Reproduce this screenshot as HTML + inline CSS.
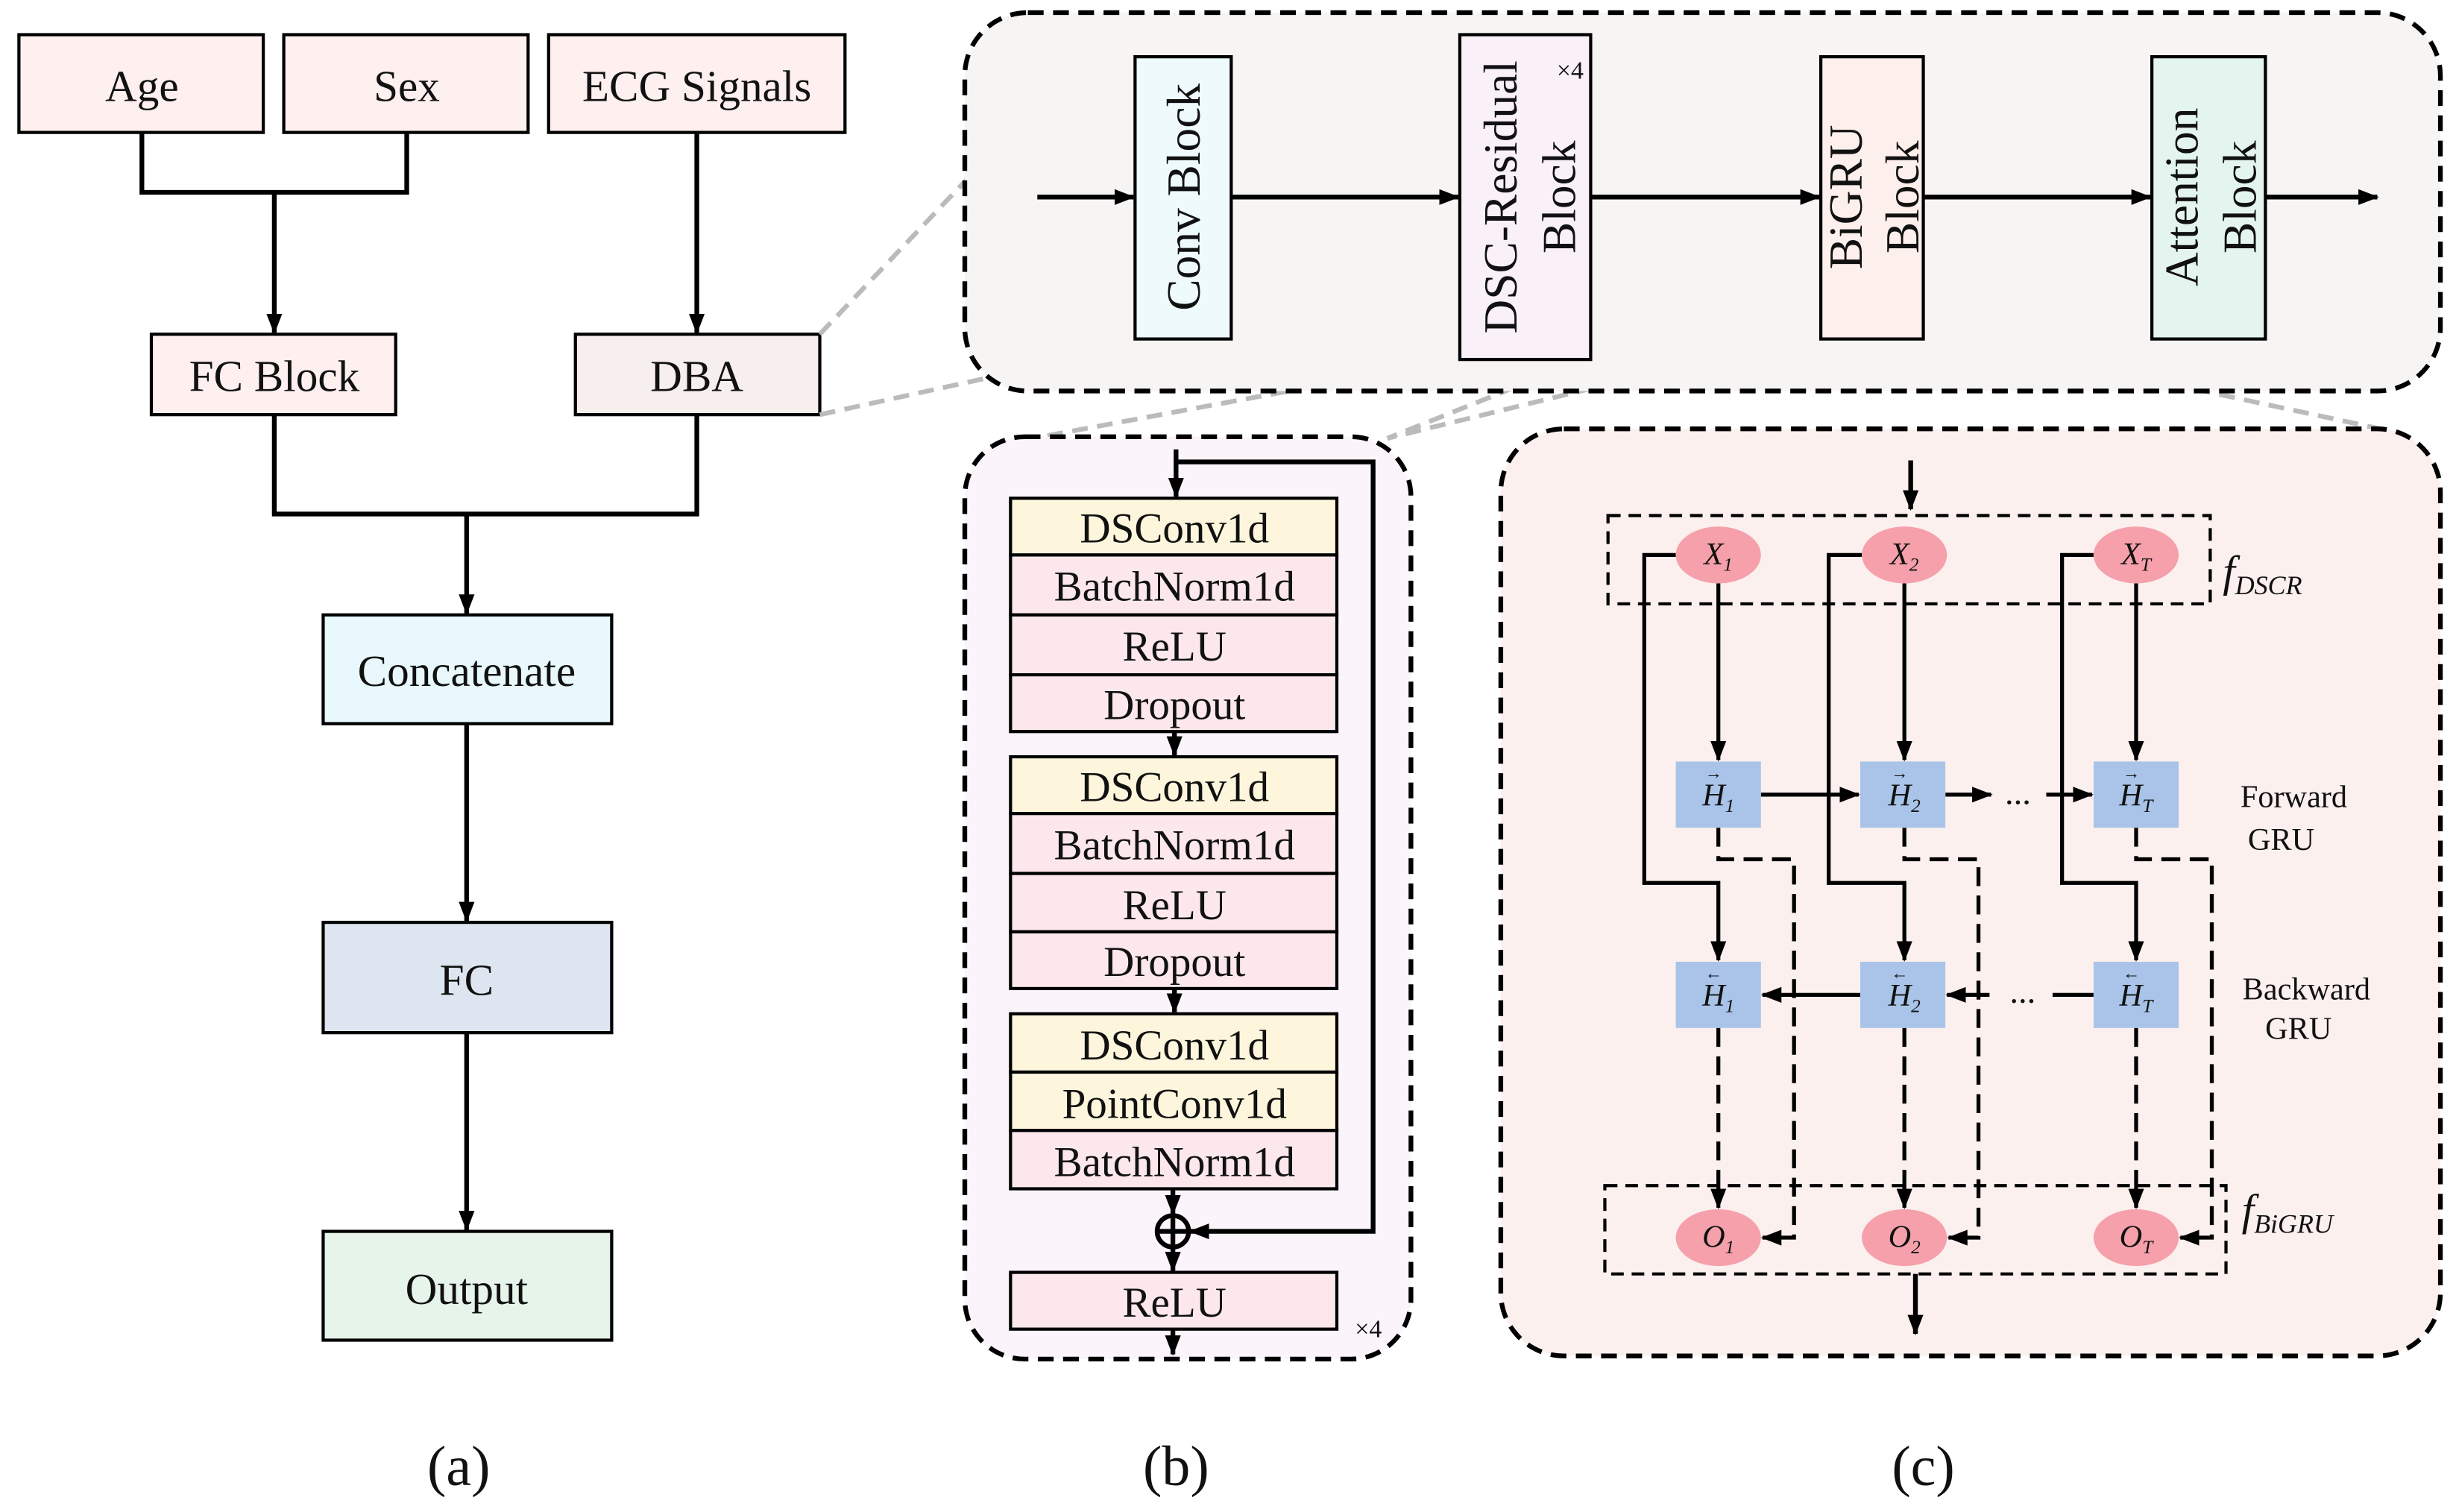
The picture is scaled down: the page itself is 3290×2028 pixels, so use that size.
<!DOCTYPE html>
<html><head><meta charset="utf-8"><style>
html,body{margin:0;padding:0;background:#fff;}
svg{display:block;}
text{font-family:"Liberation Serif",serif;fill:#111;}
</style></head><body>
<svg width="3290" height="2028" viewBox="0 0 1556 959" preserveAspectRatio="none" xmlns="http://www.w3.org/2000/svg">
<defs>
<marker id="ar" markerWidth="13" markerHeight="12" refX="12" refY="6" orient="auto" markerUnits="userSpaceOnUse"><path d="M0,1 L13,6 L0,11 z" fill="#000"/></marker>
</defs>
<g stroke="#000" stroke-width="2">
<rect x="12" y="22" width="155" height="62" fill="#fdf0ee"/>
<rect x="180" y="22" width="155" height="62" fill="#fdf0ee"/>
<rect x="348" y="22" width="188" height="62" fill="#fdf0ee"/>
<rect x="96" y="212" width="155" height="51" fill="#fdf0ee"/>
<rect x="365" y="212" width="155" height="51" fill="#f6efed"/>
<rect x="205" y="390" width="183" height="69" fill="#e8f8fc"/>
<rect x="205" y="585" width="183" height="70" fill="#dde6f0"/>
<rect x="205" y="781" width="183" height="69" fill="#e6f4ea"/>
<g fill="none" stroke-width="3">
<polyline points="90,84 90,122 258,122 258,84"/>
<line x1="174" y1="122" x2="174" y2="211" marker-end="url(#ar)"/>
<line x1="442" y1="84" x2="442" y2="211" marker-end="url(#ar)"/>
<polyline points="174,263 174,326 442,326 442,263"/>
<line x1="296" y1="326" x2="296" y2="389" marker-end="url(#ar)"/>
<line x1="296" y1="459" x2="296" y2="584" marker-end="url(#ar)"/>
<line x1="296" y1="655" x2="296" y2="780" marker-end="url(#ar)"/>
</g>
<g stroke="#bbb" stroke-width="3" stroke-dasharray="10,6" fill="none">
<line x1="520" y1="212" x2="615" y2="112"/>
<line x1="520" y1="263" x2="625" y2="240"/>
<line x1="926" y1="228" x2="655" y2="278"/>
<line x1="1005" y1="228" x2="880" y2="278"/>
<line x1="1150" y1="212" x2="880" y2="278"/>
<line x1="1220" y1="210" x2="1510" y2="272"/>
</g>
<rect x="612" y="8" width="936" height="240" rx="40" fill="#f7f4f4" stroke-width="3" stroke-dasharray="10,6"/>
<rect x="720" y="36" width="61" height="179" fill="#eefafc"/>
<rect x="926" y="22" width="83" height="206" fill="#f9f0f8"/>
<rect x="1155" y="36" width="65" height="179" fill="#fdf0ec"/>
<rect x="1365" y="36" width="72" height="179" fill="#e4f5f0"/>
<g stroke-width="3">
<line x1="658" y1="125" x2="719" y2="125" marker-end="url(#ar)"/>
<line x1="781" y1="125" x2="925" y2="125" marker-end="url(#ar)"/>
<line x1="1009" y1="125" x2="1154" y2="125" marker-end="url(#ar)"/>
<line x1="1220" y1="125" x2="1364" y2="125" marker-end="url(#ar)"/>
<line x1="1437" y1="125" x2="1508" y2="125" marker-end="url(#ar)"/>
</g>
<rect x="612" y="277" width="283" height="585" rx="38" fill="#fbf4fa" stroke-width="3" stroke-dasharray="10,6"/>
<g>
<rect x="641" y="316" width="207" height="36" fill="#fdf6dc"/>
<rect x="641" y="352" width="207" height="38" fill="#fce8ec"/>
<rect x="641" y="390" width="207" height="38" fill="#fce8ec"/>
<rect x="641" y="428" width="207" height="36" fill="#fce8ec"/>
<rect x="641" y="480" width="207" height="36" fill="#fdf6dc"/>
<rect x="641" y="516" width="207" height="38" fill="#fce8ec"/>
<rect x="641" y="554" width="207" height="37" fill="#fce8ec"/>
<rect x="641" y="591" width="207" height="36" fill="#fce8ec"/>
<rect x="641" y="643" width="207" height="37" fill="#fdf6dc"/>
<rect x="641" y="680" width="207" height="37" fill="#fdf6dc"/>
<rect x="641" y="717" width="207" height="37" fill="#fce8ec"/>
<rect x="641" y="807" width="207" height="36" fill="#fce8ec"/>
</g>
<g stroke-width="3" fill="none">
<line x1="746" y1="285" x2="746" y2="315" marker-end="url(#ar)"/>
<polyline points="746,293 871,293 871,781 755,781" marker-end="url(#ar)"/>
<line x1="745" y1="464" x2="745" y2="479" marker-end="url(#ar)"/>
<line x1="745" y1="627" x2="745" y2="642" marker-end="url(#ar)"/>
<line x1="744" y1="754" x2="744" y2="770" marker-end="url(#ar)"/>
<circle cx="744" cy="781" r="10"/>
<line x1="734" y1="781" x2="754" y2="781"/>
<line x1="744" y1="771" x2="744" y2="791"/>
<line x1="744" y1="791" x2="744" y2="806" marker-end="url(#ar)"/>
<line x1="744" y1="843" x2="744" y2="859" marker-end="url(#ar)"/>
</g>
<rect x="952" y="272" width="596" height="588" rx="40" fill="#fcf0ee" stroke-width="3" stroke-dasharray="10,6"/>
<rect x="1020" y="327" width="382" height="56" fill="none" stroke-dasharray="8,5"/>
<rect x="1018" y="752" width="394" height="56" fill="none" stroke-dasharray="8,5"/>
<g stroke-width="3" fill="none">
<line x1="1212" y1="292" x2="1212" y2="323" marker-end="url(#ar)"/>
<line x1="1215" y1="808" x2="1215" y2="846" marker-end="url(#ar)"/>
</g>
<g stroke-width="2.5" fill="none">
<line x1="1090" y1="370" x2="1090" y2="482" marker-end="url(#ar)"/>
<line x1="1208" y1="370" x2="1208" y2="482" marker-end="url(#ar)"/>
<line x1="1355" y1="370" x2="1355" y2="482" marker-end="url(#ar)"/>
<polyline points="1063,352 1043,352 1043,560 1090,560 1090,609" marker-end="url(#ar)"/>
<polyline points="1181,352 1160,352 1160,560 1208,560 1208,609" marker-end="url(#ar)"/>
<polyline points="1328,352 1308,352 1308,560 1355,560 1355,609" marker-end="url(#ar)"/>
<line x1="1117" y1="504" x2="1179" y2="504" marker-end="url(#ar)"/>
<line x1="1234" y1="504" x2="1263" y2="504" marker-end="url(#ar)"/>
<line x1="1298" y1="504" x2="1327" y2="504" marker-end="url(#ar)"/>
<line x1="1328" y1="631" x2="1302" y2="631"/>
<line x1="1262" y1="631" x2="1235" y2="631" marker-end="url(#ar)"/>
<line x1="1180" y1="631" x2="1118" y2="631" marker-end="url(#ar)"/>
<g stroke-dasharray="12,6">
<polyline points="1090,525 1090,545 1138,545 1138,785 1118,785" marker-end="url(#ar)"/>
<polyline points="1208,525 1208,545 1255,545 1255,785 1236,785" marker-end="url(#ar)"/>
<polyline points="1355,525 1355,545 1403,545 1403,785 1383,785" marker-end="url(#ar)"/>
<line x1="1090" y1="652" x2="1090" y2="766" marker-end="url(#ar)"/>
<line x1="1208" y1="652" x2="1208" y2="766" marker-end="url(#ar)"/>
<line x1="1355" y1="652" x2="1355" y2="766" marker-end="url(#ar)"/>
</g>
</g>
<g stroke="none" fill="#f5a0ab">
<ellipse cx="1090" cy="352" rx="27" ry="18"/><ellipse cx="1208" cy="352" rx="27" ry="18"/><ellipse cx="1355" cy="352" rx="27" ry="18"/>
<ellipse cx="1090" cy="785" rx="27" ry="18"/><ellipse cx="1208" cy="785" rx="27" ry="18"/><ellipse cx="1355" cy="785" rx="27" ry="18"/>
</g>
<g stroke="none" fill="#a9c4e8">
<rect x="1063" y="483" width="54" height="42"/><rect x="1180" y="483" width="54" height="42"/><rect x="1328" y="483" width="54" height="42"/>
<rect x="1063" y="610" width="54" height="42"/><rect x="1180" y="610" width="54" height="42"/><rect x="1328" y="610" width="54" height="42"/>
</g>
</g>
<g font-size="28" text-anchor="middle">
<text x="90" y="64">Age</text><text x="258" y="64">Sex</text><text x="442" y="64">ECG Signals</text>
<text x="174" y="248">FC Block</text><text x="442" y="248">DBA</text>
<text x="296" y="435">Concatenate</text><text x="296" y="631">FC</text><text x="296" y="827">Output</text>
<text x="291" y="942" font-size="36">(a)</text><text x="746" y="942" font-size="36">(b)</text><text x="1220" y="942" font-size="36">(c)</text>
<g font-size="27">
<text x="745" y="344">DSConv1d</text><text x="745" y="381">BatchNorm1d</text><text x="745" y="419">ReLU</text><text x="745" y="456">Dropout</text>
<text x="745" y="508">DSConv1d</text><text x="745" y="545">BatchNorm1d</text><text x="745" y="583">ReLU</text><text x="745" y="619">Dropout</text>
<text x="745" y="672">DSConv1d</text><text x="745" y="709">PointConv1d</text><text x="745" y="746">BatchNorm1d</text>
<text x="745" y="835">ReLU</text>
</g>
<text x="868" y="848" font-size="16">×4</text>
<text x="996" y="50" font-size="16">×4</text>
<text transform="translate(761,125) rotate(-90)" font-size="30">Conv Block</text>
<text transform="translate(962,125) rotate(-90)" font-size="30">DSC-Residual</text>
<text transform="translate(999,125) rotate(-90)" font-size="30">Block</text>
<text transform="translate(1181,125) rotate(-90)" font-size="30">BiGRU</text>
<text transform="translate(1217,125) rotate(-90)" font-size="30">Block</text>
<text transform="translate(1394,125) rotate(-90)" font-size="30">Attention</text>
<text transform="translate(1431,125) rotate(-90)" font-size="30">Block</text>
<g font-size="20" font-style="italic">
<text x="1090" y="358">X<tspan font-size="12" dy="4">1</tspan></text>
<text x="1208" y="358">X<tspan font-size="12" dy="4">2</tspan></text>
<text x="1355" y="358">X<tspan font-size="12" dy="4">T</tspan></text>
<text x="1090" y="791">O<tspan font-size="12" dy="4">1</tspan></text>
<text x="1208" y="791">O<tspan font-size="12" dy="4">2</tspan></text>
<text x="1355" y="791">O<tspan font-size="12" dy="4">T</tspan></text>
<text x="1090" y="511">H<tspan font-size="12" dy="4">1</tspan></text>
<text x="1208" y="511">H<tspan font-size="12" dy="4">2</tspan></text>
<text x="1355" y="511">H<tspan font-size="12" dy="4">T</tspan></text>
<text x="1090" y="638">H<tspan font-size="12" dy="4">1</tspan></text>
<text x="1208" y="638">H<tspan font-size="12" dy="4">2</tspan></text>
<text x="1355" y="638">H<tspan font-size="12" dy="4">T</tspan></text>
</g>
<g font-size="11">
<text x="1087" y="494">→</text><text x="1205" y="494">→</text><text x="1352" y="494">→</text>
<text x="1087" y="621">←</text><text x="1205" y="621">←</text><text x="1352" y="621">←</text>
</g>
<text x="1280" y="510" font-size="22">...</text>
<text x="1283" y="636" font-size="22">...</text>
<g font-size="20">
<text x="1455" y="512">Forward</text><text x="1447" y="539">GRU</text>
<text x="1463" y="634">Backward</text><text x="1458" y="659">GRU</text>
</g>
</g>
<text x="1410" y="372" font-size="28" font-style="italic">f<tspan font-size="17" dy="5">DSCR</tspan></text>
<text x="1422" y="777" font-size="28" font-style="italic">f<tspan font-size="17" dy="5">BiGRU</tspan></text>
</svg>
</body></html>
